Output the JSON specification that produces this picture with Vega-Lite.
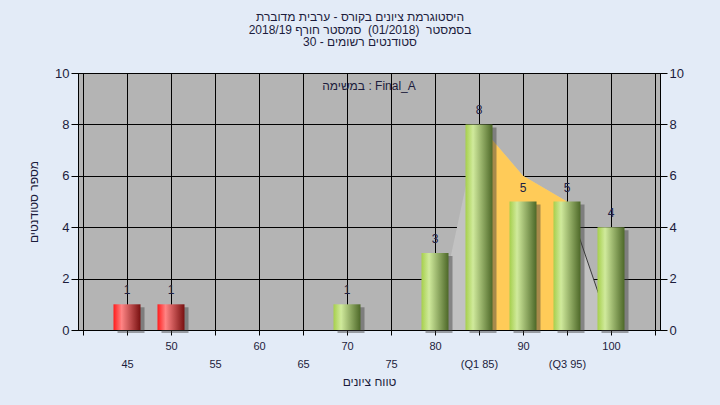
{
  "$schema": "https://vega.github.io/schema/vega-lite/v6.json",
  "width": 582,
  "height": 257,
  "autosize": {"type": "none"},
  "padding": {"left": 78, "top": 73, "right": 60, "bottom": 75},
  "background": "#e3ebf7",
  "config": {
    "view": {"fill": "#b4b4b4", "stroke": "#000000", "strokeWidth": 1},
    "font": "Liberation Sans"
  },
  "title": {
    "text": ["היסטוגרמת ציונים בקורס - ערבית מדוברת", "בסמסטר\u00a0 (01/2018)\u00a0 סמסטר חורף 2018/19", "סטודנטים רשומים - 30"],
    "fontSize": 12,
    "fontWeight": "normal",
    "color": "#1c1c3c",
    "lineHeight": 12.5,
    "offset": 18,
    "dx": -9
  },
  "datasets": {
    "bars": [
      {"grade": 45, "count": 1, "status": "fail"},
      {"grade": 50, "count": 1, "status": "fail"},
      {"grade": 70, "count": 1, "status": "pass"},
      {"grade": 80, "count": 3, "status": "pass"},
      {"grade": 85, "count": 8, "status": "pass"},
      {"grade": 90, "count": 5, "status": "pass"},
      {"grade": 95, "count": 5, "status": "pass"},
      {"grade": 100, "count": 4, "status": "pass"}
    ],
    "curve": [
      {"grade": 80, "v": 0},
      {"grade": 85, "v": 8},
      {"grade": 90, "v": 6},
      {"grade": 95, "v": 5},
      {"grade": 100, "v": 0}
    ],
    "note": [
      {"grade": 72.5, "v": 9.5, "label": "במשימה : Final_A"}
    ]
  },
  "resolve": {"axis": {"x": "independent", "y": "independent"}},
  "layer": [
    {
      "data": {"name": "curve"},
      "mark": {"type": "area", "color": "#c2c2c2"},
      "encoding": {
        "x": {
          "field": "grade", "type": "quantitative",
          "scale": {"domain": [40, 105], "nice": false, "zero": false},
          "axis": {
            "values": [40, 45, 50, 55, 60, 65, 70, 75, 80, 85, 90, 95, 100, 105],
            "grid": true, "gridColor": "#000000", "gridOpacity": 1, "gridWidth": 1,
            "domainColor": "#000000", "tickColor": "#000000", "tickSize": 5,
            "labelExpr": "datum.value == 40 || datum.value == 105 ? '' : datum.value % 10 == 5 ? ['', datum.value == 85 ? '(Q1 85)' : datum.value == 95 ? '(Q3 95)' : datum.label] : datum.label",
            "labelFontSize": 11, "labelColor": "#1c1c3c", "labelPadding": 5,
            "labelLineHeight": 18, "labelBaseline": "top",
            "labelFlush": false, "labelOverlap": false,
            "title": "טווח ציונים", "titleFontWeight": "normal", "titleFontSize": 12,
            "titleColor": "#1c1c3c", "titlePadding": 7
          }
        },
        "y": {
          "field": "v", "type": "quantitative",
          "scale": {"domain": [0, 10], "nice": false},
          "axis": {
            "orient": "left",
            "values": [0, 2, 4, 6, 8, 10],
            "grid": true, "gridColor": "#000000", "gridOpacity": 1,
            "domainColor": "#000000", "tickColor": "#000000", "tickSize": 7,
            "labelFontSize": 13, "labelColor": "#1c1c3c", "labelPadding": 2,
            "title": "מספר סטודנטים", "titleFontWeight": "normal", "titleFontSize": 12,
            "titleColor": "#1c1c3c", "titlePadding": 14
          }
        }
      }
    },
    {
      "data": {"name": "curve"},
      "transform": [{"filter": "datum.grade >= 85 && datum.grade <= 95"}],
      "mark": {"type": "area", "color": "#ffcb58"},
      "encoding": {
        "x": {"field": "grade", "type": "quantitative", "axis": null},
        "y": {"field": "v", "type": "quantitative", "axis": null}
      }
    },
    {
      "data": {"name": "curve"},
      "transform": [{"filter": "datum.grade >= 95"}],
      "mark": {"type": "line", "color": "#3a3a3a", "strokeWidth": 1},
      "encoding": {
        "x": {"field": "grade", "type": "quantitative", "axis": null},
        "y": {"field": "v", "type": "quantitative", "axis": null}
      }
    },
    {
      "data": {"name": "bars"},
      "mark": {"type": "bar", "size": 27, "color": "#3c3c3c", "opacity": 0.45, "xOffset": 4, "yOffset": 3},
      "encoding": {
        "x": {"field": "grade", "type": "quantitative", "axis": null},
        "y": {
          "field": "count", "type": "quantitative",
          "axis": {
            "orient": "right",
            "values": [0, 2, 4, 6, 8, 10],
            "grid": false,
            "domainColor": "#000000", "tickColor": "#000000", "tickSize": 7,
            "labelFontSize": 13, "labelColor": "#1c1c3c", "labelPadding": 2,
            "title": null
          }
        }
      }
    },
    {
      "data": {"name": "bars"},
      "transform": [{"filter": "datum.status == 'fail'"}],
      "mark": {
        "type": "bar", "size": 27,
        "color": {"gradient": "linear", "x1": 0, "y1": 0, "x2": 1, "y2": 0,
          "stops": [
            {"offset": 0, "color": "#ff1c1c"},
            {"offset": 0.3, "color": "#ff8484"},
            {"offset": 1, "color": "#781010"}
          ]}
      },
      "encoding": {
        "x": {"field": "grade", "type": "quantitative", "axis": null},
        "y": {"field": "count", "type": "quantitative", "axis": null}
      }
    },
    {
      "data": {"name": "bars"},
      "transform": [{"filter": "datum.status == 'pass'"}],
      "mark": {
        "type": "bar", "size": 27,
        "color": {"gradient": "linear", "x1": 0, "y1": 0, "x2": 1, "y2": 0,
          "stops": [
            {"offset": 0, "color": "#a6cf4c"},
            {"offset": 0.28, "color": "#d0ea9c"},
            {"offset": 1, "color": "#4d6828"}
          ]}
      },
      "encoding": {
        "x": {"field": "grade", "type": "quantitative", "axis": null},
        "y": {"field": "count", "type": "quantitative", "axis": null}
      }
    },
    {
      "data": {"name": "bars"},
      "mark": {"type": "text", "fontSize": 12, "color": "#202044", "baseline": "bottom", "dy": -7},
      "encoding": {
        "x": {"field": "grade", "type": "quantitative", "axis": null},
        "y": {"field": "count", "type": "quantitative", "axis": null},
        "text": {"field": "count", "type": "quantitative"}
      }
    },
    {
      "data": {"name": "note"},
      "mark": {"type": "text", "fontSize": 12, "color": "#1c1c3c", "baseline": "middle", "align": "center"},
      "encoding": {
        "x": {"field": "grade", "type": "quantitative", "axis": null},
        "y": {"field": "v", "type": "quantitative", "axis": null},
        "text": {"field": "label", "type": "nominal"}
      }
    }
  ]
}
